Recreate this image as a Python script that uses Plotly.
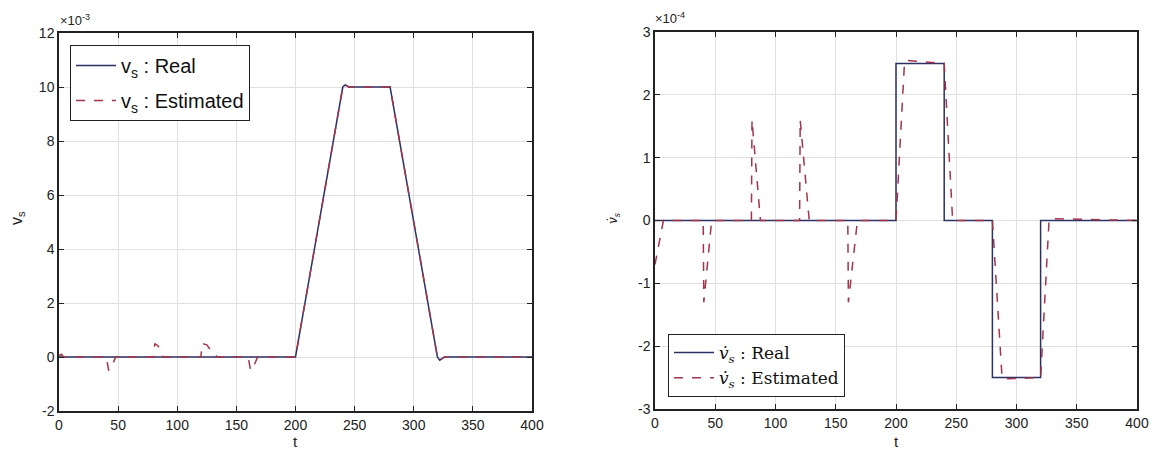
import plotly.graph_objects as go

# ---------------- data (values as displayed, in units of the axis multiplier) ----------------
# Left: v_s (x 1e-3)
t_vs_real = [0, 200, 240, 242, 245, 280, 320, 322, 326, 400]
vs_real = [0, 0, 10, 10.08, 10, 10, 0, -0.12, 0, 0]

t_vs_est = [0, 2, 4, 40, 42, 45, 48, 80, 81, 84, 88, 120, 121, 125, 130, 134,
            160, 162, 165, 168, 200, 240, 242, 245, 280, 320, 322, 326, 400]
vs_est = [0.05, 0.1, 0, 0, -0.5, -0.3, 0, 0, 0.5, 0.4, 0, 0, 0.5, 0.45, 0.15, 0,
          0, -0.5, -0.3, 0, 0, 10, 10.08, 10, 10, 0, -0.12, 0, 0]

# Right: dv_s/dt (x 1e-4)
t_dvs_real = [0, 200, 200, 240, 240, 280, 280, 320, 320, 400]
dvs_real = [0, 0, 2.5, 2.5, 0, 0, -2.5, -2.5, 0, 0]

t_dvs_est = [0, 7, 40, 40.5, 47, 80, 80.5, 87.5, 120, 120.5, 128, 160, 160.5, 168,
             200, 207, 208, 240, 247, 280, 288, 290, 320, 327, 328, 400]
dvs_est = [-0.7, 0, 0, -1.3, 0, 0, 1.6, 0, 0, 1.6, 0, 0, -1.3, 0,
           0, 2.5, 2.55, 2.5, 0, 0, -2.5, -2.52, -2.5, 0, 0.03, 0]

x_ticks = [0, 50, 100, 150, 200, 250, 300, 350, 400]
y1_ticks = [-2, 0, 2, 4, 6, 8, 10, 12]
y2_ticks = [-3, -2, -1, 0, 1, 2, 3]

REAL_C = "#2c3166"
EST_C = "#a3344a"
W, H = 1154, 455

fig = go.Figure()
fig.add_trace(go.Scatter(x=t_vs_real, y=vs_real, mode="lines", name="v<sub>s</sub> : Real",
                         line=dict(color=REAL_C, width=1.5), xaxis="x", yaxis="y",
                         legend="legend", legendgroup="a"))
fig.add_trace(go.Scatter(x=t_vs_est, y=vs_est, mode="lines", name="v<sub>s</sub> : Estimated",
                         line=dict(color=EST_C, width=1.5, dash="dash"), xaxis="x", yaxis="y",
                         legend="legend", legendgroup="b"))
fig.add_trace(go.Scatter(x=t_dvs_real, y=dvs_real, mode="lines", name="<i>v̇<sub>s</sub></i> : Real",
                         line=dict(color=REAL_C, width=1.5), xaxis="x2", yaxis="y2",
                         legend="legend2", legendgroup="c"))
fig.add_trace(go.Scatter(x=t_dvs_est, y=dvs_est, mode="lines", name="<i>v̇<sub>s</sub></i> : Estimated",
                         line=dict(color=EST_C, width=1.5, dash="dash"), xaxis="x2", yaxis="y2",
                         legend="legend2", legendgroup="d"))

axis_common = dict(showgrid=True, gridcolor="#e0e0e0", gridwidth=1, zeroline=False,
                   showline=True, linecolor="#222", linewidth=1.5, mirror="allticks",
                   ticks="inside", ticklen=5, tickcolor="#222", automargin=False,
                   tickfont=dict(family="Liberation Sans, Arial", size=14, color="#222"))

fig.update_layout(
    template="none",
    width=W, height=H,
    margin=dict(l=0, r=0, t=0, b=0, pad=0, autoexpand=False),
    paper_bgcolor="white", plot_bgcolor="white",
    xaxis=dict(domain=[59 / W, 532 / W], range=[0, 400], tickvals=x_ticks, anchor="y", **axis_common),
    yaxis=dict(domain=[1 - 411 / H, 1 - 33 / H], range=[-2, 12], tickvals=y1_ticks,
               ticktext=[str(v) for v in y1_ticks], anchor="x", **axis_common),
    xaxis2=dict(domain=[655 / W, 1137 / W], range=[0, 400], tickvals=x_ticks, anchor="y2", **axis_common),
    yaxis2=dict(domain=[1 - 409 / H, 1 - 32 / H], range=[-3, 3], tickvals=y2_ticks,
                ticktext=[str(v) for v in y2_ticks], anchor="x2", **axis_common),
    legend=dict(x=70 / W, y=1 - 45 / H, xanchor="left", yanchor="top",
                bordercolor="#222", borderwidth=1, bgcolor="white",
                font=dict(family="Liberation Sans, Arial", size=20, color="#111"),
                tracegroupgap=6, itemwidth=40),
    legend2=dict(x=668 / W, y=1 - 397 / H, xanchor="left", yanchor="bottom",
                 bordercolor="#222", borderwidth=1, bgcolor="white",
                 font=dict(family="DejaVu Serif, Liberation Serif", size=17, color="#111"),
                 tracegroupgap=0, itemwidth=40),
    showlegend=True,
)

ann_font = dict(family="Liberation Sans, Arial", size=13, color="#222")
fig.add_annotation(text="×10<sup>-3</sup>", x=58 / W, y=1 - 20 / H, xref="paper", yref="paper",
                   xanchor="left", yanchor="middle", showarrow=False, font=ann_font)
fig.add_annotation(text="×10<sup>-4</sup>", x=653 / W, y=1 - 18 / H, xref="paper", yref="paper",
                   xanchor="left", yanchor="middle", showarrow=False, font=ann_font)
fig.add_annotation(text="t", x=(59 + 532) / 2 / W, y=1 - 441 / H, xref="paper", yref="paper",
                   xanchor="center", yanchor="middle", showarrow=False, font=dict(family="Liberation Sans, Arial", size=15, color="#222"))
fig.add_annotation(text="t", x=(655 + 1137) / 2 / W, y=1 - 441 / H, xref="paper", yref="paper",
                   xanchor="center", yanchor="middle", showarrow=False, font=dict(family="Liberation Sans, Arial", size=15, color="#222"))
fig.add_annotation(text="v<sub>s</sub>", x=17 / W, y=1 - 218 / H, xref="paper", yref="paper",
                   xanchor="center", yanchor="middle", textangle=-90, showarrow=False,
                   font=dict(family="Liberation Sans, Arial", size=16, color="#222"))
fig.add_annotation(text="<i>v̇<sub>s</sub></i>", x=614 / W, y=1 - 218 / H, xref="paper", yref="paper",
                   xanchor="center", yanchor="middle", textangle=-90, showarrow=False,
                   font=dict(family="DejaVu Serif, Liberation Serif", size=12, color="#222"))

fig.write_html("out.html", config={"displayModeBar": False},
               post_script="document.body.style.margin='0';document.body.style.overflow='hidden';")
